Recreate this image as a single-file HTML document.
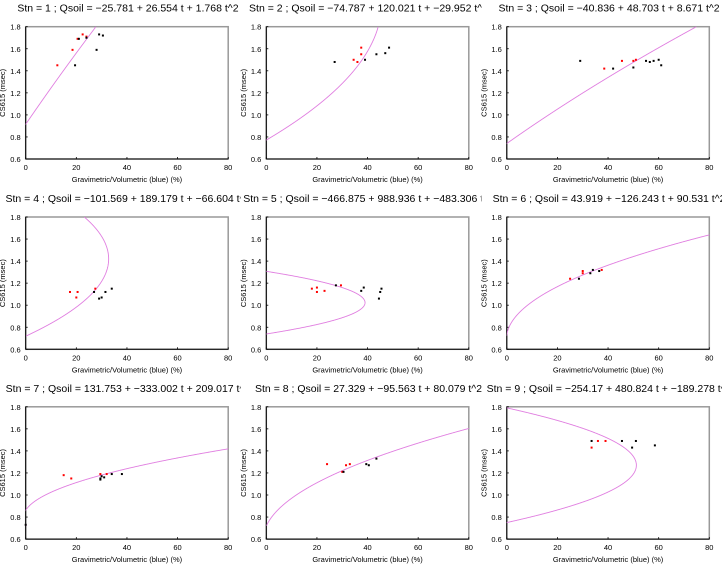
<!DOCTYPE html>
<html><head><meta charset="utf-8"><style>
html,body{margin:0;padding:0;background:#fff}
svg{display:block;font-family:"Liberation Sans",sans-serif}
</style></head><body>
<svg id="chart" width="722" height="572" viewBox="0 0 722 572" xmlns="http://www.w3.org/2000/svg"></svg>
<script>
const stations = [1,2,3,4,5,6,7,8,9];
const coefA = [-25.781,-74.787,-40.836,-101.569,-466.875,43.919,131.753,27.329,-254.17];
const coefB = [26.554,120.021,48.703,189.179,988.936,-126.243,-333.002,-95.563,480.824];
const coefC = [1.768,-29.952,8.671,-66.604,-483.306,90.531,209.017,80.079,-189.278];
const coefLabelA = ["−25.781","−74.787","−40.836","−101.569","−466.875","43.919","131.753","27.329","−254.17"];
const coefLabelB = ["26.554","120.021","48.703","189.179","988.936","−126.243","−333.002","−95.563","480.824"];
const coefLabelC = ["1.768","−29.952","8.671","−66.604","−483.306","90.531","209.017","80.079","−189.278"];
const redX = [[12.5,18.5,20.5,22.5,24],[34.5,36,37.5,37.5],[38.5,45.5,50,51],[17.5,20,20.5,27.5],[18,20,20,23,29.5],[25,30,30,37.5],[15,18,29.5,32],[24,30,31.5,33],[33.5,36,39]];
const redY = [[1.45,1.59,1.69,1.73,1.71],[1.50,1.48,1.61,1.55],[1.42,1.49,1.49,1.50],[1.12,1.07,1.12,1.15],[1.15,1.16,1.12,1.13,1.18],[1.24,1.31,1.29,1.32],[1.18,1.15,1.19,1.19],[1.28,1.21,1.27,1.28],[1.43,1.49,1.49]];
const blackX = [[19.5,21,24,28,29,30.5],[27,39,43.5,47,48.5],[29,42,50,55,56.5,58,60,61],[27,29,30,31.5,34],[27.5,37.5,38.5,44.5,45,45.5],[28.5,33,34,36.5],[29.5,29.5,30,31,34,38,0],[30.5,39.5,40.5,43.5],[33.5,45.5,49.5,51,58.5]];
const blackY = [[1.45,1.69,1.70,1.59,1.73,1.72],[1.48,1.50,1.55,1.56,1.61],[1.49,1.42,1.43,1.49,1.48,1.49,1.50,1.45],[1.12,1.06,1.07,1.12,1.15],[1.18,1.13,1.16,1.06,1.12,1.15],[1.24,1.29,1.32,1.31],[1.15,1.14,1.17,1.16,1.19,1.19,0.73],[1.21,1.28,1.27,1.33],[1.49,1.49,1.43,1.49,1.45]];
const xTicks = [0,20,40,60,80];
const yTicks = [0.6,0.8,1.0,1.2,1.4,1.6,1.8];
const yTickLabels = ["0.6","0.8","1.0","1.2","1.4","1.6","1.8"];

const NS="http://www.w3.org/2000/svg";
const svg=document.getElementById('chart');
const PW=202.5, PH=132.3;
const colX=[25.7,266.3,506.8], rowY=[26.7,217,406.8], cellX=[0,240.7,481.3];
function mk(tag,attrs,parent){const e=document.createElementNS(NS,tag);for(const k in attrs)e.setAttribute(k,attrs[k]);(parent||svg).appendChild(e);return e;}
const defs=mk('defs',{});
stations.forEach((stn,i)=>{
  const col=i%3,row=Math.floor(i/3);
  const x0=colX[col],y0=rowY[row];
  const sx=v=>x0+v/80*PW;
  const sy=v=>y0+PH-(v-0.6)/1.2*PH;
  const g=mk('g',{});
  
  
  const cp=mk('clipPath',{id:'clip'+i},defs);mk('rect',{x:x0,y:y0,width:PW,height:PH},cp);
  const tcp=mk('clipPath',{id:'tclip'+i},defs);mk('rect',{x:cellX[col],y:y0-26,width:240.7,height:22},tcp);
  const t=mk('text',{x:x0+PW/2+1,y:y0-15,'text-anchor':'middle','font-size':'10.5','fill':'#000','clip-path':'url(#tclip'+i+')'},g);
  t.textContent='Stn = '+stn+' ; Qsoil = '+coefLabelA[i]+' + '+coefLabelB[i]+' t + '+coefLabelC[i]+' t^2';
  
  
  const fr=mk('rect',{x:x0,y:y0,width:PW,height:PH,fill:'none',stroke:'#999','stroke-width':'1.5'},g);
  
  
  mk('line',{x1:x0,y1:y0,x2:x0,y2:y0+PH,stroke:'#000','stroke-width':'1'},g);
  mk('line',{x1:x0,y1:y0+PH,x2:x0+PW,y2:y0+PH,stroke:'#000','stroke-width':'1'},g);
  xTicks.forEach(v=>{
    mk('line',{x1:sx(v),y1:y0+PH,x2:sx(v),y2:y0+PH-2,stroke:'#000','stroke-width':'0.8'},g);
    const l=mk('text',{x:sx(v),y:y0+PH+11,'text-anchor':'middle','font-size':'7.5'},g);
    l.textContent=v;
    
    
  });
  yTicks.forEach((v,k)=>{
    mk('line',{x1:x0,y1:sy(v),x2:x0+2,y2:sy(v),stroke:'#000','stroke-width':'0.8'},g);
    const l=mk('text',{x:x0-5,y:sy(v)+3,'text-anchor':'end','font-size':'7.5'},g);
    l.textContent=yTickLabels[k];
    
    
  });
  const xt=mk('text',{x:x0+PW/2,y:y0+PH+23,'text-anchor':'middle','font-size':'7.5'},g);
  xt.textContent='Gravimetric/Volumetric (blue) (%)';
  
  
  const yx=x0-20.5, yy=y0+PH/2;
  const yt=mk('text',{x:yx,y:yy,'text-anchor':'middle','font-size':'7.5',transform:'rotate(-90 '+yx+' '+yy+')'},g);
  yt.textContent='CS615 (msec)';
  
  
  let pts=[];
  for(let k=0;k<=600;k++){const tt=0.72+1.08*k/600;const q=coefA[i]+coefB[i]*tt+coefC[i]*tt*tt;pts.push(sx(q).toFixed(2)+','+sy(tt).toFixed(2));}
  const pl=mk('polyline',{points:pts.join(' '),fill:'none',stroke:'#e07ee0','stroke-width':'0.9','clip-path':'url(#clip'+i+')'},g);
  
  
  redX[i].forEach((v,k)=>{
    const c=mk('rect',{x:sx(v)-1,y:sy(redY[i][k])-1,width:2,height:2,fill:'#f00'},g);
    
    
  });
  blackX[i].forEach((v,k)=>{
    const c=mk('rect',{x:sx(v)-1,y:sy(blackY[i][k])-1,width:2,height:2,fill:'#000'},g);
    
    
  });
});
</script>
</body></html>
